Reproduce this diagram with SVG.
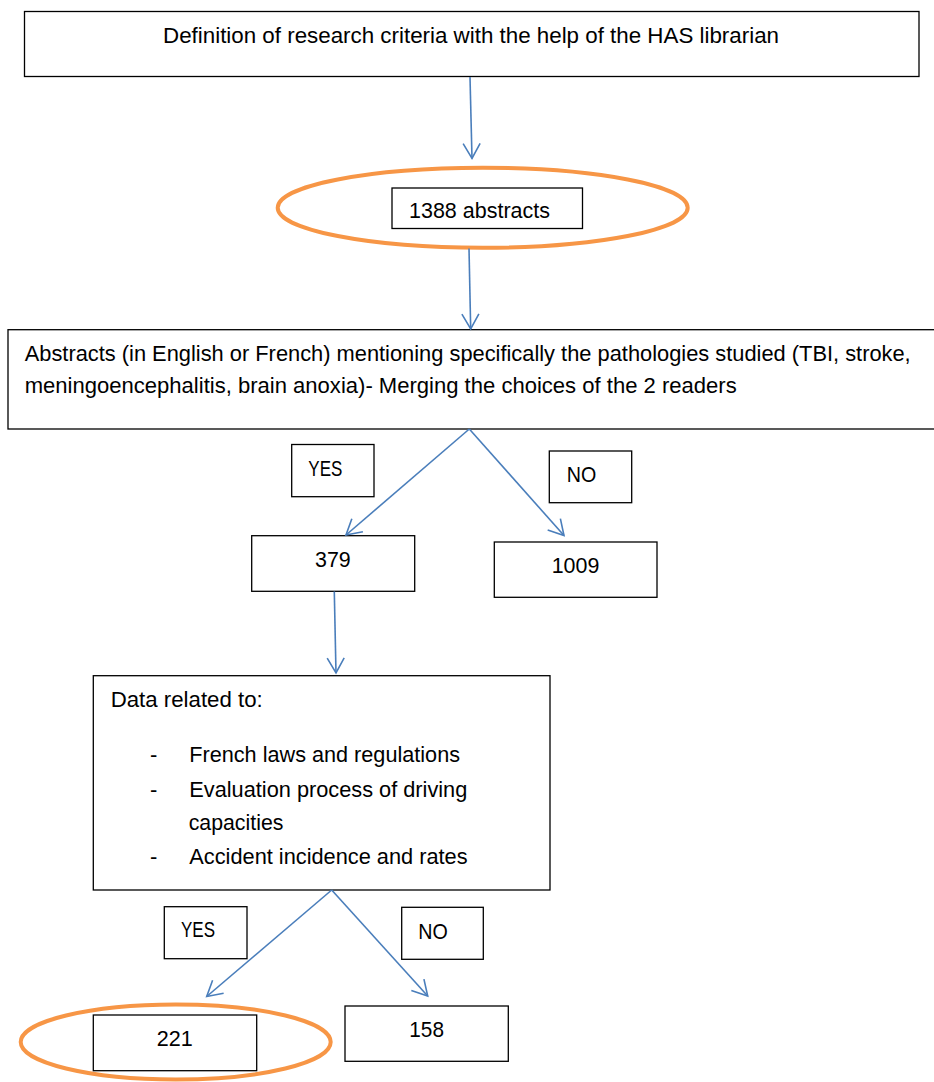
<svg xmlns="http://www.w3.org/2000/svg" width="934" height="1082" viewBox="0 0 934 1082">
<style>
.box{fill:#fff;stroke:#000;stroke-width:1.3}
.oval{fill:none;stroke:#F79646;stroke-width:4}
.t{font-family:"Liberation Sans",Arial,sans-serif;font-size:22px;fill:#000}
.c{fill:none;stroke:#4A7EBB;stroke-width:1.6;marker-end:url(#ah)}
</style>
<defs>
<marker id="ah" markerUnits="userSpaceOnUse" markerWidth="20" markerHeight="20" viewBox="-17 -10 20 20" refX="0" refY="0" orient="auto">
<path d="M-15,-8.5 L0,0 L-15,8.5" fill="none" stroke="#4A7EBB" stroke-width="1.6"/>
</marker>
</defs>
<rect width="934" height="1082" fill="#fff"/>
<g id="n-criteria">
<rect class="box" x="24.5" y="11.5" width="894.5" height="65"/>
<text class="t" x="163" y="42.7" textLength="616" lengthAdjust="spacingAndGlyphs">Definition of research criteria with the help of the HAS librarian</text>
</g>
<g id="n-1388">
<ellipse class="oval" cx="482.7" cy="207.7" rx="205" ry="40"/>
<rect class="box" x="392" y="188" width="190.5" height="40.5"/>
<text class="t" x="409" y="218.3" textLength="141" lengthAdjust="spacingAndGlyphs">1388 abstracts</text>
</g>
<g id="n-abstracts">
<rect class="box" x="8" y="329.7" width="940" height="99.3"/>
<text class="t" x="24.7" y="360.7" textLength="886" lengthAdjust="spacingAndGlyphs">Abstracts (in English or French) mentioning specifically the pathologies studied (TBI, stroke,</text>
<text class="t" x="24.7" y="392.7" textLength="712" lengthAdjust="spacingAndGlyphs">meningoencephalitis, brain anoxia)- Merging the choices of the 2 readers</text>
</g>
<g id="n-yes1">
<rect class="box" x="291.7" y="444.5" width="82.3" height="52.2"/>
<text class="t" x="308.3" y="475.7" textLength="34" lengthAdjust="spacingAndGlyphs">YES</text>
</g>
<g id="n-no1">
<rect class="box" x="549.3" y="451" width="82.4" height="51.7"/>
<text class="t" x="566.7" y="482.3" textLength="29.5" lengthAdjust="spacingAndGlyphs">NO</text>
</g>
<g id="n-379">
<rect class="box" x="251.7" y="535.7" width="163" height="55.6"/>
<text class="t" x="315" y="566.7" textLength="35.7" lengthAdjust="spacingAndGlyphs">379</text>
</g>
<g id="n-1009">
<rect class="box" x="494.3" y="542" width="162.7" height="55.3"/>
<text class="t" x="551.7" y="573.3" textLength="47.6" lengthAdjust="spacingAndGlyphs">1009</text>
</g>
<g id="n-data">
<rect class="box" x="93.3" y="675.7" width="456.7" height="214.3"/>
<text class="t" x="110.7" y="706.7" textLength="152" lengthAdjust="spacingAndGlyphs">Data related to:</text>
<text class="t" x="150" y="761.7">-</text>
<text class="t" x="189.3" y="761.7" textLength="270.7" lengthAdjust="spacingAndGlyphs">French laws and regulations</text>
<text class="t" x="150" y="796.7">-</text>
<text class="t" x="189.3" y="796.7" textLength="278" lengthAdjust="spacingAndGlyphs">Evaluation process of driving</text>
<text class="t" x="188.7" y="829.5" textLength="94.7" lengthAdjust="spacingAndGlyphs">capacities</text>
<text class="t" x="150" y="864">-</text>
<text class="t" x="189.3" y="864" textLength="278.3" lengthAdjust="spacingAndGlyphs">Accident incidence and rates</text>
</g>
<g id="n-yes2">
<rect class="box" x="164.3" y="906.7" width="82.7" height="52"/>
<text class="t" x="181" y="937.3" textLength="34" lengthAdjust="spacingAndGlyphs">YES</text>
</g>
<g id="n-no2">
<rect class="box" x="401.7" y="907.3" width="81.6" height="52"/>
<text class="t" x="418.3" y="938.7" textLength="29.5" lengthAdjust="spacingAndGlyphs">NO</text>
</g>
<g id="n-221">
<ellipse class="oval" cx="175.7" cy="1042" rx="155" ry="37.5"/>
<rect class="box" x="93.3" y="1015" width="163.4" height="55.7"/>
<text class="t" x="156.7" y="1045.7" textLength="36" lengthAdjust="spacingAndGlyphs">221</text>
</g>
<g id="n-158">
<rect class="box" x="345" y="1006" width="163.3" height="55.3"/>
<text class="t" x="409.3" y="1036.7" textLength="34.7" lengthAdjust="spacingAndGlyphs">158</text>
</g>
<g id="connectors">
<line class="c" x1="470" y1="77" x2="472" y2="158.5"/>
<line class="c" x1="469" y1="248.5" x2="470.7" y2="329"/>
<line class="c" x1="469.3" y1="429" x2="346" y2="535"/>
<line class="c" x1="469.3" y1="429" x2="564" y2="535.5"/>
<line class="c" x1="334.3" y1="591.5" x2="336" y2="673"/>
<line class="c" x1="331.7" y1="890" x2="206.7" y2="996.5"/>
<line class="c" x1="331.7" y1="890" x2="427.7" y2="996"/>
</g>
</svg>
